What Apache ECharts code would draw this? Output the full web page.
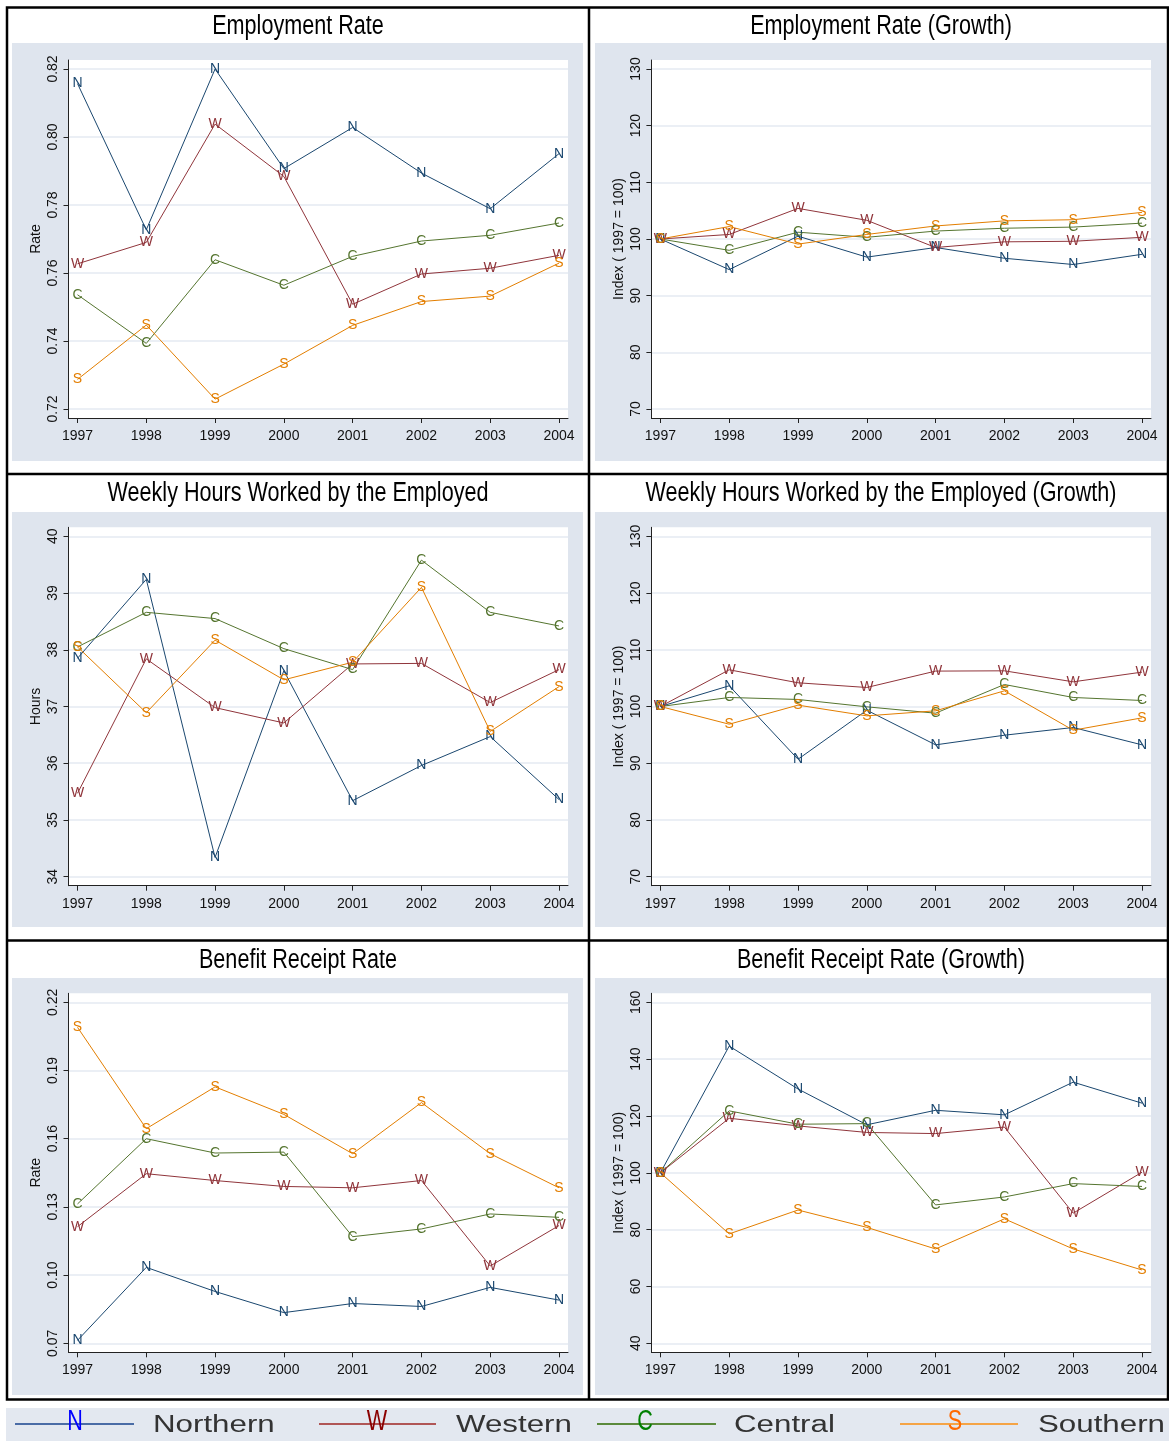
<!DOCTYPE html>
<html>
<head>
<meta charset="utf-8">
<script src="https://cdn.jsdelivr.net/npm/echarts@6/dist/echarts.min.js"></script>
<style>
  html, body { margin: 0; padding: 0; background: #fff; }
  #chart { width: 1169px; height: 1441px; }
</style>
</head>
<body>
<div id="chart"></div>
<script>
// data
const years = [1997, 1998, 1999, 2000, 2001, 2002, 2003, 2004];

const empN = [0.8157, 0.7727, 0.8200, 0.7907, 0.8028, 0.7894, 0.7789, 0.7951];
const empW = [0.7627, 0.7690, 0.8038, 0.7884, 0.7508, 0.7597, 0.7614, 0.7652];
const empC = [0.7536, 0.7393, 0.7639, 0.7564, 0.7649, 0.7694, 0.7711, 0.7747];
const empS = [0.7287, 0.7447, 0.7229, 0.7332, 0.7446, 0.7516, 0.7532, 0.7629];

const empGrN = [100, 94.6, 100.5, 96.8, 98.5, 96.6, 95.5, 97.3];
const empGrW = [100, 100.8, 105.4, 103.3, 98.5, 99.5, 99.6, 100.3];
const empGrC = [100, 98.0, 101.2, 100.3, 101.4, 101.9, 102.1, 102.8];
const empGrS = [100, 102.2, 99.1, 100.8, 102.3, 103.2, 103.4, 104.7];

const hrsN = [37.85, 39.24, 34.34, 37.63, 35.34, 35.96, 36.47, 35.36];
const hrsW = [35.47, 37.84, 36.98, 36.71, 37.75, 37.76, 37.07, 37.65];
const hrsC = [38.05, 38.66, 38.55, 38.02, 37.65, 39.58, 38.66, 38.42];
const hrsS = [38.05, 36.89, 38.17, 37.47, 37.78, 39.10, 36.56, 37.35];

const hrsGrN = [100, 103.65, 90.7, 99.35, 93.24, 94.94, 96.3, 93.24];
const hrsGrW = [100, 106.47, 104.18, 103.35, 106.24, 106.29, 104.35, 106.06];
const hrsGrC = [100, 101.59, 101.24, 99.94, 98.82, 103.88, 101.59, 101.06];
const hrsGrS = [100, 96.88, 100.24, 98.35, 99.24, 102.76, 95.82, 98.0];

const benN = [0.0713, 0.1034, 0.0928, 0.0835, 0.0875, 0.0862, 0.0946, 0.0890];
const benW = [0.1213, 0.1446, 0.1416, 0.1390, 0.1384, 0.1416, 0.1040, 0.1218];
const benC = [0.1313, 0.1600, 0.1537, 0.1541, 0.1169, 0.1203, 0.1269, 0.1254];
const benS = [0.2090, 0.1644, 0.1828, 0.1707, 0.1534, 0.1759, 0.1534, 0.1384];

const benGrN = [100, 144.6, 129.5, 116.9, 122.0, 120.4, 131.9, 124.5];
const benGrW = [100, 119.2, 116.5, 114.2, 113.8, 116.1, 85.8, 100.2];
const benGrC = [100, 121.8, 117.1, 117.3, 88.7, 91.5, 96.2, 95.2];
const benGrS = [100, 78.5, 86.9, 80.8, 73.2, 83.8, 73.2, 65.8];

// tick labels
const empTicks = [0.72, 0.74, 0.76, 0.78, 0.80, 0.82];
const growthTicks = [70, 80, 90, 100, 110, 120, 130];
const hrsTicks = [34, 35, 36, 37, 38, 39, 40];
const benTicks = [0.07, 0.10, 0.13, 0.16, 0.19, 0.22];
const benGrTicks = [40, 60, 80, 100, 120, 140, 160];

const regions = ['Northern', 'Western', 'Central', 'Southern'];
const letters = ['N', 'W', 'C', 'S'];
const lineColors = ['#1a476f', '#90353b', '#55752f', '#e37e00'];

const panels = [
  { title: 'Employment Rate', yName: 'Rate', ticks: empTicks, digits: 2, data: [empN, empW, empC, empS] },
  { title: 'Employment Rate (Growth)', yName: 'Index ( 1997 = 100)', ticks: growthTicks, digits: 0, data: [empGrN, empGrW, empGrC, empGrS] },
  { title: 'Weekly Hours Worked by the Employed', yName: 'Hours', ticks: hrsTicks, digits: 0, data: [hrsN, hrsW, hrsC, hrsS] },
  { title: 'Weekly Hours Worked by the Employed (Growth)', yName: 'Index ( 1997 = 100)', ticks: growthTicks, digits: 0, data: [hrsGrN, hrsGrW, hrsGrC, hrsGrS] },
  { title: 'Benefit Receipt Rate', yName: 'Rate', ticks: benTicks, digits: 2, data: [benN, benW, benC, benS] },
  { title: 'Benefit Receipt Rate (Growth)', yName: 'Index ( 1997 = 100)', ticks: benGrTicks, digits: 0, data: [benGrN, benGrW, benGrC, benGrS] }
];

// layout (pixels)
const colPlot = [{ left: 68.5, right: 568 }, { left: 651.4, right: 1151 }];
const rowPlot = [{ top: 60, bottom: 418 }, { top: 527.3, bottom: 885.7 }, { top: 993.3, bottom: 1352.3 }];
const colBg = [{ x: 12, w: 571 }, { x: 595, w: 571 }];
const rowBg = [{ y: 43, h: 418 }, { y: 512, h: 415 }, { y: 978, h: 417 }];
const colTitleX = [298, 881];
const rowTitleY = [27, 494, 961];
const PAD = 9;

const FONT = "'Liberation Sans', Arial, sans-serif";

// value range so that first/last tick sit PAD px inside the plot box
const padRange = (lo, hi, len) => {
  const per = (hi - lo) / (len - 2 * PAD);
  return [lo - PAD * per, hi + PAD * per];
};

const chart = echarts.init(document.getElementById('chart'), null, { renderer: 'canvas' });

const grids = [], xAxes = [], yAxes = [], series = [], graphics = [];

// cell backgrounds and frame
colBg.forEach((c) => {
  rowBg.forEach((r) => {
    graphics.push({ type: 'rect', shape: { x: c.x, y: r.y, width: c.w, height: r.h }, style: { fill: '#dfe5ee' }, silent: true, z: -10 });
  });
});
const frame = { stroke: '#000', lineWidth: 2.5 };
graphics.push({ type: 'rect', shape: { x: 7, y: 7.5, width: 1161, height: 1392 }, style: { fill: 'none', ...frame }, silent: true, z: -5 });
graphics.push({ type: 'line', shape: { x1: 589, y1: 7, x2: 589, y2: 1400 }, style: frame, silent: true, z: -5 });
graphics.push({ type: 'line', shape: { x1: 7, y1: 474, x2: 1168, y2: 474 }, style: frame, silent: true, z: -5 });
graphics.push({ type: 'line', shape: { x1: 7, y1: 940.5, x2: 1168, y2: 940.5 }, style: frame, silent: true, z: -5 });

panels.forEach((p, i) => {
  const col = i % 2, row = Math.floor(i / 2);
  const cp = colPlot[col], rp = rowPlot[row];
  grids.push({
    left: cp.left, top: rp.top,
    width: cp.right - cp.left, height: rp.bottom - rp.top,
    show: true, backgroundColor: '#fff', borderWidth: 0
  });
  const [xmin, xmax] = padRange(years[0], years[years.length - 1], cp.right - cp.left);
  const [ymin, ymax] = padRange(p.ticks[0], p.ticks[p.ticks.length - 1], rp.bottom - rp.top);

  xAxes.push({
    type: 'value', gridIndex: i, min: xmin, max: xmax,
    axisLine: { show: true, onZero: false, lineStyle: { color: '#222', width: 1 } },
    axisTick: { show: true, length: 5, customValues: years, lineStyle: { color: '#222' } },
    axisLabel: { customValues: years, margin: 11, color: '#111', fontSize: 14, fontFamily: FONT, formatter: (v) => String(Math.round(v)) },
    splitLine: { show: false }
  });
  yAxes.push({
    type: 'value', gridIndex: i, min: ymin, max: ymax,
    name: p.yName, nameLocation: 'middle', nameGap: 25,
    nameTextStyle: { color: '#111', fontSize: 14, fontFamily: FONT },
    axisLine: { show: true, onZero: false, lineStyle: { color: '#222', width: 1 } },
    axisTick: { show: true, length: 5, customValues: p.ticks, lineStyle: { color: '#222' } },
    axisLabel: { customValues: p.ticks, rotate: 90, margin: 8, color: '#111', fontSize: 14, fontFamily: FONT, formatter: (v) => v.toFixed(p.digits) },
    splitLine: { show: true, lineStyle: { color: '#e4eaf2', width: 1.5 } }
  });

  p.data.forEach((vals, k) => {
    series.push({
      type: 'line', name: regions[k], xAxisIndex: i, yAxisIndex: i,
      data: years.map((y, j) => [y, vals[j]]),
      symbol: 'circle', symbolSize: 2,
      itemStyle: { color: 'rgba(0,0,0,0)' },
      lineStyle: { color: lineColors[k], width: 1 },
      label: { show: true, position: 'inside', formatter: letters[k], color: lineColors[k], fontSize: 14, fontFamily: FONT },
      emphasis: { disabled: true },
      silent: true
    });
  });

  // narrow title: Liberation Sans squeezed horizontally
  graphics.push({
    type: 'text', x: colTitleX[col], y: rowTitleY[row], scaleX: 0.8, silent: true,
    style: { text: p.title, fill: '#000', font: `27px ${FONT}`, align: 'center', verticalAlign: 'middle' }
  });
});

// legend strip
const legendY = 1424;
const legendItems = [
  { x1: 15, x2: 134, lx: 75, tx: 153, line: '#4a6ca6', letter: '#0000ff' },
  { x1: 319, x2: 436, lx: 377, tx: 456, line: '#b05656', letter: '#8b0000' },
  { x1: 597, x2: 716, lx: 645, tx: 734, line: '#5b8a3c', letter: '#008000' },
  { x1: 900, x2: 1018, lx: 955, tx: 1038, line: '#f5a446', letter: '#ff6a00' }
];
graphics.push({ type: 'rect', shape: { x: 6, y: 1408, width: 1163, height: 33 }, style: { fill: '#e3e8f0' }, silent: true, z: -10 });
legendItems.forEach((it, k) => {
  graphics.push({ type: 'line', shape: { x1: it.x1, y1: legendY, x2: it.x2, y2: legendY }, style: { stroke: it.line, lineWidth: 2 }, silent: true });
  graphics.push({
    type: 'text', x: it.lx, y: legendY - 2, scaleX: 0.72, silent: true,
    style: { text: letters[k], fill: it.letter, font: `30px ${FONT}`, align: 'center', verticalAlign: 'middle' }
  });
  graphics.push({
    type: 'text', x: it.tx, y: legendY + 2, scaleX: 1.36, silent: true,
    style: { text: regions[k], fill: '#333', font: `23px ${FONT}`, align: 'left', verticalAlign: 'middle' }
  });
});

chart.setOption({
  animation: false,
  backgroundColor: '#fff',
  grid: grids,
  xAxis: xAxes,
  yAxis: yAxes,
  series: series,
  graphic: graphics
});
</script>
</body>
</html>
